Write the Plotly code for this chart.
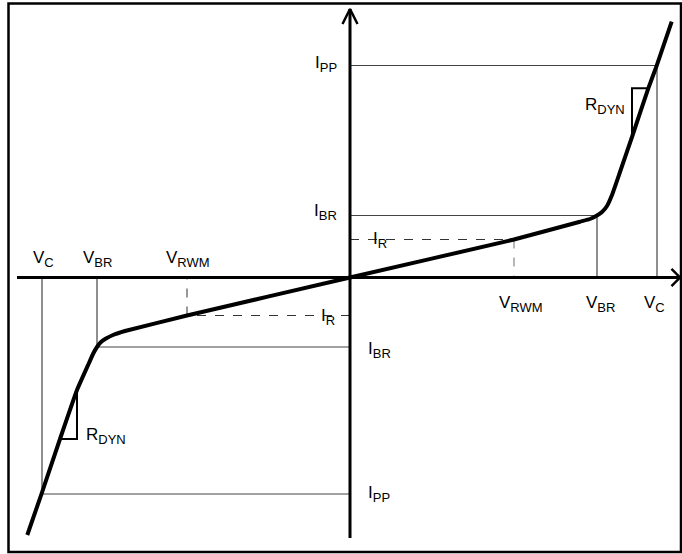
import plotly.graph_objects as go

# ---- characteristic values (arbitrary units: voltage on x, current on y) ----
V_RWM_POS, V_BR_POS, V_C_POS = 164, 247, 307
I_R_POS, I_BR_POS, I_PP_POS = 38, 62, 212
V_RWM_NEG, V_BR_NEG, V_C_NEG = -163, -253, -308
I_R_NEG, I_BR_NEG, I_PP_NEG = -38, -69.5, -216.5

# ---- I-V curve of the bidirectional TVS diode ----
curve_v = [-322.7, -308.3, -290, -273, -261, -257, -253, -249, -244, -237, -225, -163, 0,
           164, 230, 240, 247, 252, 257, 262, 270, 282, 298.3, 306.7, 321.7]
curve_i = [-257.5, -215.8, -161.5, -112.5, -85.5, -76.5, -69.5, -64.5, -61, -57.5, -53.5, -38, 0,
           38, 55.8, 58.5, 62, 65.5, 71.5, 82.5, 105.5, 140.5, 189.2, 211.8, 255.8]

# ---- dynamic-resistance triangles ----
rdyn_pos_v = [282, 282, 298.3]
rdyn_pos_i = [140.5, 189.2, 189.2]
rdyn_neg_v = [-290, -273, -273]
rdyn_neg_i = [-161.5, -161.5, -112.5]

# ---- axes extents ----
X_AXIS = [-333, 330]
Y_AXIS = [-260.5, 268.5]

# ---- labels ----
label_main = ["I", "I", "I", "V", "V", "V", "V", "V", "V", "I", "I", "I", "R", "R"]
label_sub = ["PP", "BR", "R", "RWM", "BR", "C", "C", "BR", "RWM", "R", "BR", "PP", "DYN", "DYN"]
label_x = [-11, -11, 21, 171, 250, 304, -307, -253, -162, -31, 16, 16, 255, -244]
label_y = [213.5, 65.5, 37.5, -13.5, -13.5, -13.5, 5.5, 5.5, 5.5, -39.5, -72.5, -216.5, 171.5, -158.5]
label_xanchor = ["right", "right", "left", "center", "center", "center",
                 "center", "center", "center", "left", "left", "left", "center", "center"]
label_yanchor = ["middle", "middle", "middle", "top", "top", "top",
                 "bottom", "bottom", "bottom", "middle", "middle", "middle", "middle", "middle"]

fig = go.Figure()

def seg(xs, ys, width=1.2, color="#444", dash="solid"):
    fig.add_trace(go.Scatter(x=xs, y=ys, mode="lines", hoverinfo="skip",
                             line=dict(color=color, width=width, dash=dash)))

# thin reference lines (positive side)
seg([0, V_C_POS], [I_PP_POS, I_PP_POS])
seg([V_C_POS, V_C_POS], [I_PP_POS, 0])
seg([0, V_BR_POS], [I_BR_POS, I_BR_POS])
seg([V_BR_POS, V_BR_POS], [I_BR_POS, 0])
seg([0, V_RWM_POS], [I_R_POS, I_R_POS], dash="dash", color="#333")
seg([V_RWM_POS, V_RWM_POS], [I_R_POS, 0], dash="dash", color="#888")
# thin reference lines (negative side)
seg([0, V_C_NEG], [I_PP_NEG, I_PP_NEG])
seg([V_C_NEG, V_C_NEG], [I_PP_NEG, 0])
seg([0, V_BR_NEG], [I_BR_NEG, I_BR_NEG])
seg([V_BR_NEG, V_BR_NEG], [I_BR_NEG, 0])
seg([0, V_RWM_NEG], [I_R_NEG, I_R_NEG], dash="dash", color="#333")
seg([V_RWM_NEG, V_RWM_NEG], [I_R_NEG, 0], dash="dash", color="#555")

# R_DYN triangles
seg(rdyn_pos_v, rdyn_pos_i, width=2, color="black")
seg(rdyn_neg_v, rdyn_neg_i, width=2, color="black")

# axes with arrows
seg(X_AXIS, [0, 0], width=3, color="black")
seg([0, 0], Y_AXIS, width=3, color="black")
seg([X_AXIS[1] - 8.5, X_AXIS[1], X_AXIS[1] - 8.5], [8.7, 0, -8.7], width=2.5, color="black")
seg([-7.5, 0, 7.5], [Y_AXIS[1] - 15, Y_AXIS[1], Y_AXIS[1] - 15], width=2.5, color="black")

# the I-V curve
fig.add_trace(go.Scatter(x=curve_v, y=curve_i, mode="lines", hoverinfo="skip",
                         line=dict(color="black", width=4, shape="spline", smoothing=0.3)))

for m, s, x, y, xa, ya in zip(label_main, label_sub, label_x, label_y, label_xanchor, label_yanchor):
    fig.add_annotation(x=x, y=y, showarrow=False, xanchor=xa, yanchor=ya,
                       text=f"{m}<sub><span style='font-size:13px'>{s}</span></sub>",
                       font=dict(family="Liberation Sans, Arial", size=17, color="black"))

# outer frame
fig.add_shape(type="rect", x0=-341.5, x1=331, y0=-274.5, y1=274,
              line=dict(color="black", width=2.5))

fig.update_layout(
    width=682, height=554, margin=dict(l=0, r=0, t=0, b=0),
    paper_bgcolor="white", plot_bgcolor="white", showlegend=False,
    xaxis=dict(range=[-350, 332], visible=False, fixedrange=True),
    yaxis=dict(range=[-276.5, 277.5], visible=False, fixedrange=True),
)

fig.write_html("out.html", config={"displayModeBar": False},
               post_script="document.body.style.margin='0';document.body.style.overflow='hidden';")
